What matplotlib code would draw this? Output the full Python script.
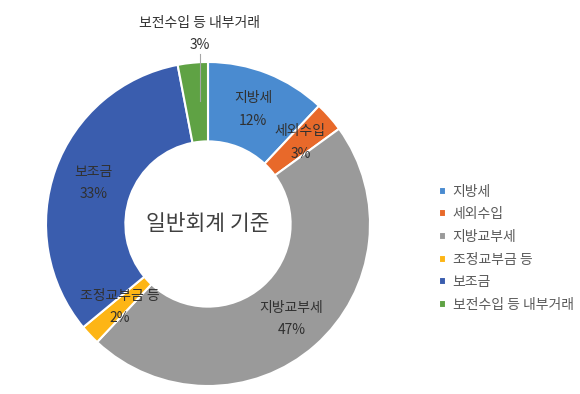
import numpy as np
import matplotlib.pyplot as plt

plt.rcParams['font.family'] = ['Noto Sans CJK KR', 'DejaVu Sans']

# data
categories = ['지방세', '세외수입', '지방교부세', '조정교부금 등', '보조금', '보전수입 등 내부거래']
shares = [12, 3, 47, 2, 33, 3]
colors = ['#4A8BD0', '#E8692A', '#9A9A9A', '#FDB515', '#3A5DAE', '#5FA244']
center_text = '일반회계 기준'

fig = plt.figure(figsize=(5.8, 3.94), dpi=100)
ax = fig.add_axes([46 / 580, 8 / 394, 324 / 580, 324 / 394])

wedges, _ = ax.pie(shares, colors=colors, startangle=90, counterclock=False,
                   radius=1.0,
                   wedgeprops=dict(width=0.49, edgecolor='white', linewidth=1.5))
ax.set_xlim(-1, 1)
ax.set_ylim(-1, 1)
ax.set_aspect('equal')
ax.axis('off')

# data labels
label_r = [0.76, 0.76, 0.78, 0.75, 0.75, 1.18]
for w, name, v, r in zip(wedges, categories, shares, label_r):
    mid = np.deg2rad((w.theta1 + w.theta2) / 2)
    x, y = r * np.cos(mid), r * np.sin(mid)
    if r > 1:
        x = x + 0.06
        ax.plot([x, x], [1.05, 0.76], color='#A6A6A6', lw=0.8, clip_on=False)
    ax.text(x, y, f'{name}\n{v}%', ha='center', va='center', fontsize=10,
            color='#303030', linespacing=1.75, weight='medium')

ax.text(0, 0, center_text, ha='center', va='center', fontsize=15.5, color='#404040')

fig.legend(wedges, categories, loc='center left', bbox_to_anchor=(0.735, 0.37),
           frameon=False, fontsize=10, labelcolor='#595959',
           handlelength=0.5, handleheight=0.5, handletextpad=0.5,
           labelspacing=0.62)

fig.savefig('out.png', dpi=100)
